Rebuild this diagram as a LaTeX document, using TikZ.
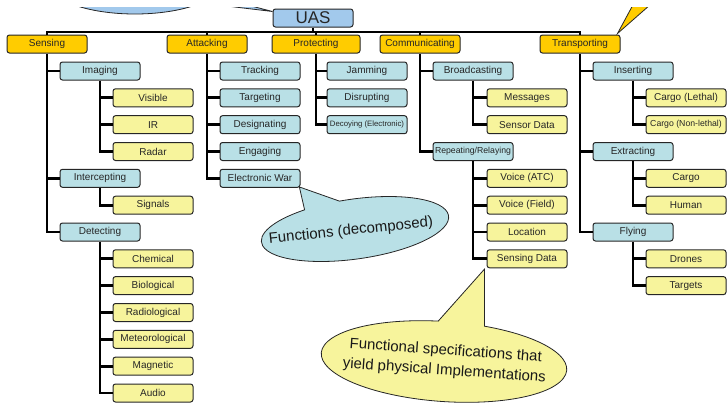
\documentclass[tikz,border=0pt]{standalone}
\usepackage{fontspec}
\setmainfont{Liberation Sans}
\definecolor{gold}{HTML}{FFCC00}
\definecolor{lblue}{HTML}{B9E0E6}
\definecolor{lyel}{HTML}{F7F49C}
\definecolor{uasblue}{HTML}{A2C9EC}
\begin{document}
\begin{tikzpicture}[x=1pt,y=1pt,
 box/.style={draw=black!85, line width=1pt, rounded corners=2.5pt, minimum width=80pt, minimum height=18pt, inner sep=0pt, text=black!85, font=\fontsize{10}{12}\selectfont},
 lone/.style={box, fill=gold},
 ltwo/.style={box, fill=lblue},
 lthree/.style={box, fill=lyel},
 conn/.style={line width=2.8pt, black},
 callout/.style={draw=black!85, line width=0.8pt},
 smalltxt/.style={font=\fontsize{7.8}{9}\selectfont},
 midtxt/.style={font=\fontsize{8.7}{10}\selectfont},
]
\useasboundingbox (0,0) rectangle (727,-402);

% top levels
\node[box, fill=uasblue, font=\fontsize{17}{20}\selectfont] (uas) at (313,-18) {UAS};
\node[lone] (sens) at (47,-44) {Sensing};
\node[lone] (att) at (207,-44) {Attacking};
\node[lone, minimum width=88pt] (prot) at (316,-44) {Protecting};
\node[lone] (comm) at (420,-44) {Communicating};
\node[lone] (trans) at (580,-44) {Transporting};

% Sensing
\node[ltwo] (imag) at (100,-71) {Imaging};
\node[lthree] (visi) at (153,-97.8) {Visible};
\node[lthree] (ir) at (153,-124.7) {IR};
\node[lthree] (radar) at (153,-151.5) {Radar};
\node[ltwo] (intc) at (100,-178.3) {Intercepting};
\node[lthree] (sig) at (153,-205.2) {Signals};
\node[ltwo] (dete) at (100,-232) {Detecting};
\node[lthree] (chem) at (153,-258.8) {Chemical};
\node[lthree] (bio) at (153,-285.6) {Biological};
\node[lthree] (radi) at (153,-312.5) {Radiological};
\node[lthree] (met) at (153,-339.3) {Meteorological};
\node[lthree] (mag) at (153,-366.1) {Magnetic};
\node[lthree] (aud) at (153,-393) {Audio};

% Attacking
\node[ltwo] (track) at (260,-71) {Tracking};
\node[ltwo] (targ) at (260,-97.8) {Targeting};
\node[ltwo] (desig) at (260,-124.7) {Designating};
\node[ltwo] (eng) at (260,-151.5) {Engaging};
\node[ltwo] (ew) at (260,-178.3) {Electronic War};

% Protecting
\node[ltwo] (jam) at (367,-71) {Jamming};
\node[ltwo] (dis) at (367,-97.8) {Disrupting};
\node[ltwo, smalltxt] (dec) at (367,-124.7) {Decoying (Electronic)};

% Communicating
\node[ltwo] (broad) at (473,-71) {Broadcasting};
\node[lthree] (msg) at (527,-97.8) {Messages};
\node[lthree] (sdat) at (527,-124.7) {Sensor Data};
\node[ltwo, midtxt] (rep) at (473,-151.5) {Repeating/Relaying};
\node[lthree] (vatc) at (527,-178.3) {Voice (ATC)};
\node[lthree] (vfld) at (527,-205.2) {Voice (Field)};
\node[lthree] (loc) at (527,-232) {Location};
\node[lthree] (sensd) at (527,-258.8) {Sensing Data};

% Transporting
\node[ltwo] (ins) at (633,-71) {Inserting};
\node[lthree] (clet) at (686,-97.8) {Cargo (Lethal)};
\node[lthree, midtxt] (cnl) at (686,-124.7) {Cargo (Non-lethal)};
\node[ltwo] (ext) at (633,-151.5) {Extracting};
\node[lthree] (cargo) at (686,-178.3) {Cargo};
\node[lthree] (hum) at (686,-205.2) {Human};
\node[ltwo] (fly) at (633,-232) {Flying};
\node[lthree] (dron) at (686,-258.8) {Drones};
\node[lthree] (targs) at (686,-285.6) {Targets};

% connectors
\coordinate (bus) at (0,-32);
\draw[conn] (uas.south) -- (uas.south |- bus);
\draw[conn] (sens.north) -- (sens.north |- bus) -- (trans.north |- bus) -- (trans.north);
\draw[conn] (att.north |- bus) -- (att.north);
\draw[conn] (prot.north |- bus) -- (prot.north);
\draw[conn] (comm.north |- bus) -- (comm.north);

\draw[conn] (sens.south) |- (dete.west);
\draw[conn] (sens.south |- imag) -- (imag.west);
\draw[conn] (sens.south |- intc) -- (intc.west);
\draw[conn] (imag.south) |- (radar.west);
\draw[conn] (imag.south |- visi) -- (visi.west);
\draw[conn] (imag.south |- ir) -- (ir.west);
\draw[conn] (intc.south) |- (sig.west);
\draw[conn] (dete.south) |- (aud.west);
\foreach \n in {chem,bio,radi,met,mag} \draw[conn] (dete.south |- \n) -- (\n.west);

\draw[conn] (att.south) |- (ew.west);
\foreach \n in {track,targ,desig,eng} \draw[conn] (att.south |- \n) -- (\n.west);

\draw[conn] (prot.south) |- (dec.west);
\foreach \n in {jam,dis} \draw[conn] (prot.south |- \n) -- (\n.west);

\draw[conn] (comm.south) |- (rep.west);
\draw[conn] (comm.south |- broad) -- (broad.west);
\draw[conn] (broad.south) |- (sdat.west);
\draw[conn] (broad.south |- msg) -- (msg.west);
\draw[conn] (rep.south) |- (sensd.west);
\foreach \n in {vatc,vfld,loc} \draw[conn] (rep.south |- \n) -- (\n.west);

\draw[conn] (trans.south) |- (fly.west);
\foreach \n in {ins,ext} \draw[conn] (trans.south |- \n) -- (\n.west);
\draw[conn] (ins.south) |- (cnl.west);
\draw[conn] (ins.south |- clet) -- (clet.west);
\draw[conn] (ext.south) |- (hum.west);
\draw[conn] (ext.south |- cargo) -- (cargo.west);
\draw[conn] (fly.south) |- (targs.west);
\draw[conn] (fly.south |- dron) -- (dron.west);

% top callouts (clipped)
\begin{scope}
\clip (0,-7) rectangle (727,-402);
\begin{scope}[shift={(135,17)}]
\draw[callout, fill=uasblue] (-40:86pt and 31pt) -- ([yshift=-3pt]uas.north west) -- (-25:86pt and 31pt) arc[start angle=-25, end angle=320, x radius=86pt, y radius=31pt] -- cycle;
\end{scope}
\draw[callout, fill=gold] ([xshift=-3pt,yshift=1pt]trans.north east) -- (641,10) -- (667,10) -- cycle;
\end{scope}

% Functions callout
\begin{scope}[shift={(355,-229)}, rotate=8]
\draw[callout, fill=lblue] (120:94.5pt and 30pt) -- ([xshift=-1pt,yshift=1pt]ew.south east) -- (97:94.5pt and 30pt) arc[start angle=97, end angle=-240, x radius=94.5pt, y radius=30pt] -- cycle;
\end{scope}
\node[rotate=6, font=\fontsize{15}{18}\selectfont, text=black!90] (ftxt) at (351,-231) {Functions (decomposed)};

% Specifications callout
\begin{scope}[shift={(444,-361.5)}, rotate=-4]
\draw[callout, fill=lyel] (94:123pt and 40pt) -- ([xshift=-2pt,yshift=-1pt]sensd.south west) -- (72:123pt and 40pt) arc[start angle=72, end angle=-266, x radius=123pt, y radius=40pt] -- cycle;
\end{scope}
\node[rotate=-4, align=center, font=\fontsize{15}{20}\selectfont, text=black!90] (stxt) at (445,-361) {Functional specifications that\\yield physical Implementations};
\end{tikzpicture}
\end{document}
